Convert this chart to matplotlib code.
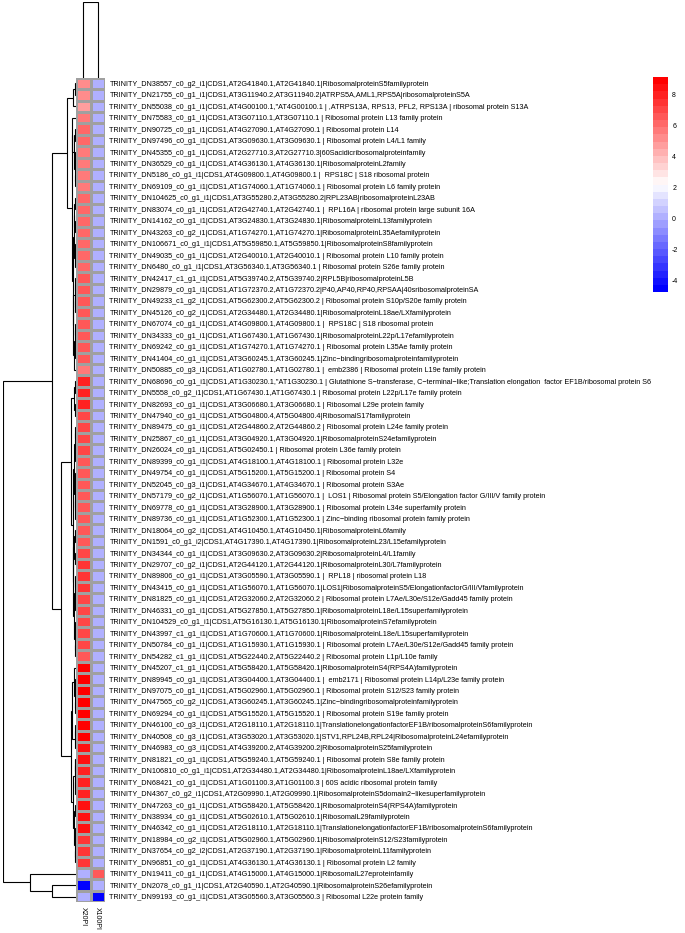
import numpy as np
import matplotlib
matplotlib.use("Agg")
import matplotlib.pyplot as plt
from matplotlib.colors import LinearSegmentedColormap, ListedColormap, BoundaryNorm

plt.rcParams['font.family'] = ['Liberation Sans', 'DejaVu Sans']

# ---- data ----
samples = ["X20PI", "X100PI"]

genes = [
    "TRINITY_DN38557_c0_g2_i1|CDS1,AT2G41840.1,AT2G41840.1|RibosomalproteinS5familyprotein",
    "TRINITY_DN21755_c0_g1_i1|CDS1,AT3G11940.2,AT3G11940.2|ATRPS5A,AML1,RPS5A|ribosomalproteinS5A",
    "TRINITY_DN55038_c0_g1_i1|CDS1,AT4G00100.1,\"AT4G00100.1 | ,ATRPS13A, RPS13, PFL2, RPS13A | ribosomal protein S13A",
    "TRINITY_DN75583_c0_g1_i1|CDS1,AT3G07110.1,AT3G07110.1 | Ribosomal protein L13 family protein",
    "TRINITY_DN90725_c0_g1_i1|CDS1,AT4G27090.1,AT4G27090.1 | Ribosomal protein L14",
    "TRINITY_DN97496_c0_g1_i1|CDS1,AT3G09630.1,AT3G09630.1 | Ribosomal protein L4/L1 family",
    "TRINITY_DN45355_c0_g1_i1|CDS1,AT2G27710.3,AT2G27710.3|60Sacidicribosomalproteinfamily",
    "TRINITY_DN36529_c0_g1_i1|CDS1,AT4G36130.1,AT4G36130.1|RibosomalproteinL2family",
    "TRINITY_DN5186_c0_g1_i1|CDS1,AT4G09800.1,AT4G09800.1 |  RPS18C | S18 ribosomal protein",
    "TRINITY_DN69109_c0_g1_i1|CDS1,AT1G74060.1,AT1G74060.1 | Ribosomal protein L6 family protein",
    "TRINITY_DN104625_c0_g1_i1|CDS1,AT3G55280.2,AT3G55280.2|RPL23AB|ribosomalproteinL23AB",
    "TRINITY_DN83074_c0_g1_i1|CDS1,AT2G42740.1,AT2G42740.1 |  RPL16A | ribosomal protein large subunit 16A",
    "TRINITY_DN14162_c0_g1_i1|CDS1,AT3G24830.1,AT3G24830.1|RibosomalproteinL13familyprotein",
    "TRINITY_DN43263_c0_g2_i1|CDS1,AT1G74270.1,AT1G74270.1|RibosomalproteinL35Aefamilyprotein",
    "TRINITY_DN106671_c0_g1_i1|CDS1,AT5G59850.1,AT5G59850.1|RibosomalproteinS8familyprotein",
    "TRINITY_DN49035_c0_g1_i1|CDS1,AT2G40010.1,AT2G40010.1 | Ribosomal protein L10 family protein",
    "TRINITY_DN6480_c0_g1_i1|CDS1,AT3G56340.1,AT3G56340.1 | Ribosomal protein S26e family protein",
    "TRINITY_DN42417_c1_g1_i1|CDS1,AT5G39740.2,AT5G39740.2|RPL5B|ribosomalproteinL5B",
    "TRINITY_DN29879_c0_g1_i1|CDS1,AT1G72370.2,AT1G72370.2|P40,AP40,RP40,RPSAA|40sribosomalproteinSA",
    "TRINITY_DN49233_c1_g2_i1|CDS1,AT5G62300.2,AT5G62300.2 | Ribosomal protein S10p/S20e family protein",
    "TRINITY_DN45126_c0_g2_i1|CDS1,AT2G34480.1,AT2G34480.1|RibosomalproteinL18ae/LXfamilyprotein",
    "TRINITY_DN67074_c0_g1_i1|CDS1,AT4G09800.1,AT4G09800.1 |  RPS18C | S18 ribosomal protein",
    "TRINITY_DN34333_c0_g1_i1|CDS1,AT1G67430.1,AT1G67430.1|RibosomalproteinL22p/L17efamilyprotein",
    "TRINITY_DN69242_c0_g1_i1|CDS1,AT1G74270.1,AT1G74270.1 | Ribosomal protein L35Ae family protein",
    "TRINITY_DN41404_c0_g1_i1|CDS1,AT3G60245.1,AT3G60245.1|Zinc\u2212bindingribosomalproteinfamilyprotein",
    "TRINITY_DN50885_c0_g3_i1|CDS1,AT1G02780.1,AT1G02780.1 |  emb2386 | Ribosomal protein L19e family protein",
    "TRINITY_DN68696_c0_g1_i1|CDS1,AT1G30230.1,\"AT1G30230.1 | Glutathione S\u2212transferase, C\u2212terminal\u2212like;Translation elongation  factor EF1B/ribosomal protein S6",
    "TRINITY_DN5558_c0_g2_i1|CDS1,AT1G67430.1,AT1G67430.1 | Ribosomal protein L22p/L17e family protein",
    "TRINITY_DN82693_c0_g1_i1|CDS1,AT3G06680.1,AT3G06680.1 | Ribosomal L29e protein family",
    "TRINITY_DN47940_c0_g1_i1|CDS1,AT5G04800.4,AT5G04800.4|RibosomalS17familyprotein",
    "TRINITY_DN89475_c0_g1_i1|CDS1,AT2G44860.2,AT2G44860.2 | Ribosomal protein L24e family protein",
    "TRINITY_DN25867_c0_g1_i1|CDS1,AT3G04920.1,AT3G04920.1|RibosomalproteinS24efamilyprotein",
    "TRINITY_DN26024_c0_g1_i1|CDS1,AT5G02450.1 | Ribosomal protein L36e family protein",
    "TRINITY_DN89399_c0_g1_i1|CDS1,AT4G18100.1,AT4G18100.1 | Ribosomal protein L32e",
    "TRINITY_DN49754_c0_g1_i1|CDS1,AT5G15200.1,AT5G15200.1 | Ribosomal protein S4",
    "TRINITY_DN52045_c0_g3_i1|CDS1,AT4G34670.1,AT4G34670.1 | Ribosomal protein S3Ae",
    "TRINITY_DN57179_c0_g2_i1|CDS1,AT1G56070.1,AT1G56070.1 |  LOS1 | Ribosomal protein S5/Elongation factor G/III/V family protein",
    "TRINITY_DN69778_c0_g1_i1|CDS1,AT3G28900.1,AT3G28900.1 | Ribosomal protein L34e superfamily protein",
    "TRINITY_DN89736_c0_g1_i1|CDS1,AT1G52300.1,AT1G52300.1 | Zinc\u2212binding ribosomal protein family protein",
    "TRINITY_DN18064_c0_g2_i1|CDS1,AT4G10450.1,AT4G10450.1|RibosomalproteinL6family",
    "TRINITY_DN1591_c0_g1_i2|CDS1,AT4G17390.1,AT4G17390.1|RibosomalproteinL23/L15efamilyprotein",
    "TRINITY_DN34344_c0_g1_i1|CDS1,AT3G09630.2,AT3G09630.2|RibosomalproteinL4/L1family",
    "TRINITY_DN29707_c0_g2_i1|CDS1,AT2G44120.1,AT2G44120.1|RibosomalproteinL30/L7familyprotein",
    "TRINITY_DN89806_c0_g1_i1|CDS1,AT3G05590.1,AT3G05590.1 |  RPL18 | ribosomal protein L18",
    "TRINITY_DN43415_c0_g1_i1|CDS1,AT1G56070.1,AT1G56070.1|LOS1|RibosomalproteinS5/ElongationfactorG/III/Vfamilyprotein",
    "TRINITY_DN81825_c0_g1_i1|CDS1,AT2G32060.2,AT2G32060.2 | Ribosomal protein L7Ae/L30e/S12e/Gadd45 family protein",
    "TRINITY_DN46331_c0_g1_i1|CDS1,AT5G27850.1,AT5G27850.1|RibosomalproteinL18e/L15superfamilyprotein",
    "TRINITY_DN104529_c0_g1_i1|CDS1,AT5G16130.1,AT5G16130.1|RibosomalproteinS7efamilyprotein",
    "TRINITY_DN43997_c1_g1_i1|CDS1,AT1G70600.1,AT1G70600.1|RibosomalproteinL18e/L15superfamilyprotein",
    "TRINITY_DN50784_c0_g1_i1|CDS1,AT1G15930.1,AT1G15930.1 | Ribosomal protein L7Ae/L30e/S12e/Gadd45 family protein",
    "TRINITY_DN54282_c1_g1_i1|CDS1,AT5G22440.2,AT5G22440.2 | Ribosomal protein L1p/L10e family",
    "TRINITY_DN45207_c1_g1_i1|CDS1,AT5G58420.1,AT5G58420.1|RibosomalproteinS4(RPS4A)familyprotein",
    "TRINITY_DN89945_c0_g1_i1|CDS1,AT3G04400.1,AT3G04400.1 |  emb2171 | Ribosomal protein L14p/L23e family protein",
    "TRINITY_DN97075_c0_g1_i1|CDS1,AT5G02960.1,AT5G02960.1 | Ribosomal protein S12/S23 family protein",
    "TRINITY_DN47565_c0_g2_i1|CDS1,AT3G60245.1,AT3G60245.1|Zinc\u2212bindingribosomalproteinfamilyprotein",
    "TRINITY_DN69294_c0_g1_i1|CDS1,AT5G15520.1,AT5G15520.1 | Ribosomal protein S19e family protein",
    "TRINITY_DN46100_c0_g3_i1|CDS1,AT2G18110.1,AT2G18110.1|TranslationelongationfactorEF1B/ribosomalproteinS6familyprotein",
    "TRINITY_DN40508_c0_g3_i1|CDS1,AT3G53020.1,AT3G53020.1|STV1,RPL24B,RPL24|RibosomalproteinL24efamilyprotein",
    "TRINITY_DN46983_c0_g3_i1|CDS1,AT4G39200.2,AT4G39200.2|RibosomalproteinS25familyprotein",
    "TRINITY_DN81821_c0_g1_i1|CDS1,AT5G59240.1,AT5G59240.1 | Ribosomal protein S8e family protein",
    "TRINITY_DN106810_c0_g1_i1|CDS1,AT2G34480.1,AT2G34480.1|RibosomalproteinL18ae/LXfamilyprotein",
    "TRINITY_DN68421_c0_g1_i1|CDS1,AT1G01100.3,AT1G01100.3 | 60S acidic ribosomal protein family",
    "TRINITY_DN4367_c0_g2_i1|CDS1,AT2G09990.1,AT2G09990.1|RibosomalproteinS5domain2\u2212likesuperfamilyprotein",
    "TRINITY_DN47263_c0_g1_i1|CDS1,AT5G58420.1,AT5G58420.1|RibosomalproteinS4(RPS4A)familyprotein",
    "TRINITY_DN38934_c0_g1_i1|CDS1,AT5G02610.1,AT5G02610.1|RibosomalL29familyprotein",
    "TRINITY_DN46342_c0_g1_i1|CDS1,AT2G18110.1,AT2G18110.1|TranslationelongationfactorEF1B/ribosomalproteinS6familyprotein",
    "TRINITY_DN18984_c0_g2_i1|CDS1,AT5G02960.1,AT5G02960.1|RibosomalproteinS12/S23familyprotein",
    "TRINITY_DN37654_c0_g2_i2|CDS1,AT2G37190.1,AT2G37190.1|RibosomalproteinL11familyprotein",
    "TRINITY_DN96851_c0_g1_i1|CDS1,AT4G36130.1,AT4G36130.1 | Ribosomal protein L2 family",
    "TRINITY_DN19411_c0_g1_i1|CDS1,AT4G15000.1,AT4G15000.1|RibosomalL27eproteinfamily",
    "TRINITY_DN2078_c0_g1_i1|CDS1,AT2G40590.1,AT2G40590.1|RibosomalproteinS26efamilyprotein",
    "TRINITY_DN99193_c0_g1_i1|CDS1,AT3G05560.3,AT3G05560.3 | Ribosomal L22e protein family",
]

x20pi = [5.3, 5.3, 4.6, 5.9, 6.2, 6.2, 5.8, 5.8, 5.8, 5.8,
         6.1, 6.1, 6.1, 6.1, 6.1, 6.3, 6.3, 6.6, 6.6, 6.6,
         6.7, 6.7, 6.7, 6.7, 6.7, 5.9, 8.0, 7.9, 7.8, 7.2,
         7.2, 7.2, 7.2, 6.8, 6.8, 6.8, 6.8, 6.8, 6.8, 6.6,
         6.6, 7.2, 7.4, 7.4, 7.4, 7.3, 7.3, 7.3, 7.1, 7.1,
         6.8, 9.0, 9.0, 9.0, 9.0, 9.0, 8.7, 8.7, 8.5, 8.3,
         8.2, 8.2, 8.2, 8.3, 8.5, 8.6, 7.7, 7.7, 7.7, 0.2,
         -4.6, 0.2]
x100pi = [0.2, 0.2, 0.2, 0.2, 0.2, 0.2, 0.2, 0.2, 0.2, 0.2,
          0.2, 0.2, 0.2, 0.2, 0.2, 0.2, 0.2, 0.2, 0.2, 0.2,
          0.2, 0.2, 0.2, 0.2, 0.2, 0.2, 0.2, 0.2, 0.2, 0.2,
          0.2, 0.2, 0.2, 0.2, 0.2, 0.2, 0.2, 0.2, 0.2, 0.2,
          0.2, 0.2, 0.2, 0.2, 0.2, 0.2, 0.2, 0.2, 0.2, 0.2,
          0.2, 0.2, 0.2, 0.2, 0.2, 0.2, 0.2, 0.2, 0.2, 0.2,
          0.2, 0.2, 0.2, 0.2, 0.2, 0.2, 0.2, 0.2, 0.2, 6.8,
          0.2, -4.3]

# row clustering tree: (left, right, merge distance), leaves = row index
row_tree = (
    (
        (((0, 1, 1.5), 2, 3.0),
         ((3, ((4, 5, 0.8), ((6, 7, 0.7), (8, 9, 0.9), 1.4), 2.2), 3.6),
          ((((10, 11, 0.9), (12, 13, 1.0), 1.6), ((14, 15, 0.8), 16, 1.2), 2.4),
           (((17, 18, 0.8), (19, 20, 1.0), 1.5),
            (((21, 22, 0.7), (23, 24, 0.9), 1.3), 25, 2.2), 2.8), 3.2), 4.4), 9.0),
        ((((26, 27, 0.9), (28, 29, 1.0), 2.5),
          ((((30, 31, 0.8), (32, 33, 0.7), 1.4),
            ((34, 35, 0.8), ((36, 37, 0.6), 38, 1.0), 1.5), 2.2),
           (((39, 40, 0.8), (41, 42, 0.9), 1.6),
            (((43, 44, 0.6), (45, 46, 0.7), 1.1),
             ((47, 48, 0.8), (49, 50, 0.9), 1.3), 2.0), 2.6), 3.3), 5.5),
         (((51, ((52, 53, 0.7), (54, 55, 0.8), 1.3), 2.0), ((56, 57, 0.6), 58, 1.1), 4.0),
          (((59, 60, 0.8), (61, 62, 0.9), 1.5),
           ((63, 64, 0.7), ((65, 66, 0.8), (67, 68, 1.0), 1.4), 1.9), 3.0), 5.0), 15.0),
        24.0),
    (69, (70, 71, 24.0), 46.0),
    73.0)
col_dist = 75.0

vmin, vmax = -4.71, 9.16
n_colors = 30

# ---- figure layout (pixel based, 685 x 933) ----
W, H = 685, 933
fig = plt.figure(figsize=(W / 100, H / 100), dpi=100)


def px_axes(x0, y0, x1, y1):
    return fig.add_axes([x0 / W, 1 - y1 / H, (x1 - x0) / W, (y1 - y0) / H])


hm_left, hm_right, hm_top, hm_bottom = 76, 105, 77.6, 902.4
n_rows = len(genes)

ax_hm = px_axes(hm_left, hm_top, hm_right, hm_bottom)
ax_rd = px_axes(3, hm_top, hm_left, hm_bottom)
ax_cd = px_axes(hm_left, 2, hm_right, hm_top)
ax_cb = px_axes(653, 77, 668, 292)

# colours
base = LinearSegmentedColormap.from_list("bwr_r", ["#0000FF", "#FFFFFF", "#FF0000"])
cmap = ListedColormap(base(np.linspace(0, 1, n_colors)))
bounds = np.linspace(vmin, vmax, n_colors + 1)
norm = BoundaryNorm(bounds, n_colors)

mat = np.column_stack([x20pi, x100pi])
ax_hm.pcolormesh(np.arange(3), np.arange(n_rows + 1), mat, cmap=cmap, norm=norm,
                 edgecolors="#a0a0a0", linewidth=0.8)
ax_hm.set_xlim(0, 2)
ax_hm.set_ylim(n_rows, 0)
ax_hm.yaxis.tick_right()
ax_hm.set_yticks(np.arange(n_rows) + 0.5)
ax_hm.set_yticklabels(genes, fontsize=5.2)
ax_hm.set_xticks(np.arange(2) + 0.5)
ax_hm.set_xticklabels(samples, fontsize=5.0, rotation=270)
ax_hm.tick_params(length=0, pad=3.2)
for s in ax_hm.spines.values():
    s.set_visible(False)


# row dendrogram
def draw_node(ax, node):
    if isinstance(node, int):
        return node + 0.5, 0.0
    left, right, h = node
    yl, hl = draw_node(ax, left)
    yr, hr = draw_node(ax, right)
    ax.plot([hl, h, h, hr], [yl, yl, yr, yr], color="black", lw=0.8,
            solid_capstyle="butt", solid_joinstyle="miter")
    return (yl + yr) / 2, h


draw_node(ax_rd, row_tree)
ax_rd.set_xlim(row_tree[2], 0)
ax_rd.set_ylim(n_rows, 0)
ax_rd.axis("off")

# column dendrogram (two samples)
ax_cd.plot([0.5, 0.5, 1.5, 1.5], [0, col_dist, col_dist, 0], color="black", lw=0.8,
           solid_joinstyle="miter")
ax_cd.set_xlim(0, 2)
ax_cd.set_ylim(0, col_dist)
ax_cd.axis("off")

# colour key
for i in range(n_colors):
    ax_cb.fill_between([0, 1], bounds[i], bounds[i + 1], color=cmap(i), lw=0)
ax_cb.set_xlim(0, 1)
ax_cb.set_ylim(vmin, vmax)
ax_cb.set_xticks([])
ticks = [-4, -2, 0, 2, 4, 6, 8]
ax_cb.yaxis.tick_right()
ax_cb.set_yticks(ticks)
ax_cb.set_yticklabels([str(t) for t in ticks], fontsize=5)
ax_cb.tick_params(length=0, pad=3)
for s in ax_cb.spines.values():
    s.set_visible(False)

fig.savefig("out.png", dpi=100)
